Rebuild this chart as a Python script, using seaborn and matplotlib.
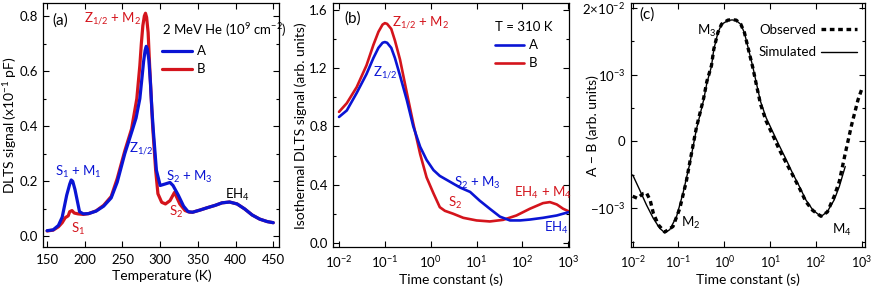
import numpy as np
import matplotlib
matplotlib.use("Agg")
import matplotlib.pyplot as plt
import matplotlib.ticker as mticker
from matplotlib.lines import Line2D
import seaborn as sns

# (a) DLTS temperature scans, samples A and B
temp_a = [150, 158, 165, 170, 176, 180, 182, 184, 187, 193, 198, 205, 215, 225, 235, 243, 253,
          263, 268, 273, 276, 278, 280, 281.5, 283, 285, 287, 289, 291, 295, 300, 306, 313,
          317, 324, 331, 337, 343, 353, 362, 373, 382, 392, 402, 412, 422, 432, 442, 450]
dlts_a = [0.021, 0.024, 0.04, 0.07, 0.15, 0.19, 0.205, 0.2, 0.17, 0.09, 0.082, 0.083, 0.092,
          0.11, 0.14, 0.197, 0.30, 0.386, 0.43, 0.50, 0.58, 0.635, 0.675, 0.69, 0.68, 0.64,
          0.56, 0.46, 0.38, 0.24, 0.185, 0.19, 0.196, 0.185, 0.15, 0.11, 0.09, 0.088, 0.096,
          0.104, 0.113, 0.122, 0.125, 0.118, 0.10, 0.078, 0.063, 0.054, 0.05]
temp_b = [150, 158, 165, 170, 174, 178, 180, 183, 186, 191, 198, 205, 215, 225, 235, 243, 253,
          262, 269, 273, 275, 277, 279, 280.5, 282, 284, 286, 290, 294, 297, 302, 307, 313,
          319, 326, 333, 339, 343, 353, 362, 373, 382, 392, 402, 412, 422, 432, 442, 450]
dlts_b = [0.02, 0.023, 0.035, 0.05, 0.068, 0.075, 0.09, 0.094, 0.085, 0.082, 0.08, 0.083,
          0.093, 0.113, 0.145, 0.21, 0.31, 0.39, 0.50, 0.62, 0.70, 0.765, 0.80, 0.81, 0.795,
          0.74, 0.62, 0.40, 0.24, 0.155, 0.124, 0.118, 0.13, 0.16, 0.118, 0.094, 0.088, 0.088,
          0.096, 0.104, 0.113, 0.122, 0.125, 0.118, 0.10, 0.078, 0.063, 0.054, 0.05]

# (b) isothermal DLTS at 310 K
tau_a = [0.01, 0.0148, 0.0243, 0.0398, 0.0562, 0.0724, 0.0891, 0.1, 0.112, 0.138, 0.166, 0.214,
         0.302, 0.417, 0.589, 0.813, 1.15, 1.58, 2.63, 4.37, 7.24, 11.7, 19.5, 32.4, 53.7,
         89.1, 145, 282, 562, 1000]
iso_a = [0.865, 0.91, 1.03, 1.16, 1.27, 1.34, 1.375, 1.38, 1.375, 1.34, 1.27, 1.15, 0.98,
         0.80, 0.66, 0.57, 0.50, 0.46, 0.42, 0.38, 0.35, 0.29, 0.234, 0.18, 0.154, 0.154,
         0.16, 0.172, 0.188, 0.21]
tau_b = [0.01, 0.0148, 0.0243, 0.0398, 0.0562, 0.0724, 0.0891, 0.1, 0.112, 0.138, 0.166, 0.214,
         0.302, 0.417, 0.589, 0.813, 1.15, 1.58, 2.04, 3.09, 5.13, 10.0, 19.5, 38.0, 74.1,
         145, 282, 398, 562, 776, 1000]
iso_b = [0.90, 0.96, 1.07, 1.22, 1.36, 1.45, 1.50, 1.51, 1.505, 1.47, 1.39, 1.26, 1.03, 0.82,
         0.61, 0.45, 0.34, 0.245, 0.22, 0.20, 0.172, 0.154, 0.147, 0.158, 0.188, 0.234,
         0.273, 0.28, 0.264, 0.234, 0.218]

# (c) A - B, observed and simulated
tau_obs = [0.0100, 0.0126, 0.0170, 0.0200, 0.0240, 0.0282, 0.0363, 0.0501, 0.0759, 0.107,
           0.148, 0.178, 0.245, 0.355, 0.417, 0.525, 0.589, 0.724, 0.871, 1.20, 1.48, 1.82,
           2.29, 2.75, 3.39, 4.17, 5.01, 6.17, 8.13, 11.5, 15.8, 22.4, 30.9, 43.7, 60.3, 85.1,
           129, 178, 251, 324, 437, 603, 832, 1000]
diff_obs = [-0.82e-3, -0.85e-3, -0.78e-3, -0.77e-3, -0.875e-3, -1.24e-3, -2.1e-3, -2.9e-3,
            -2.26e-3, -1.0e-3, -0.6e-3, -0.30e-3, 0.20e-3, 0.65e-3, 0.90e-3, 1.5e-3, 3.1e-3,
            6.6e-3, 9.6e-3, 1.15e-2, 1.17e-2, 1.15e-2, 9.6e-3, 6.6e-3, 3.0e-3, 1.4e-3, 0.85e-3,
            0.56e-3, 0.31e-3, 0.09e-3, -0.12e-3, -0.32e-3, -0.5e-3, -0.7e-3, -0.9e-3, -1.1e-3,
            -1.43e-3, -1.18e-3, -0.82e-3, -0.6e-3, -0.18e-3, 0.25e-3, 0.625e-3, 0.78e-3]
tau_sim = [0.0100, 0.0141, 0.0200, 0.0282, 0.0389, 0.0501, 0.0646, 0.0912, 0.126, 0.178, 0.245,
           0.355, 0.417, 0.525, 0.589, 0.724, 0.871, 1.20, 1.48, 1.82, 2.29, 2.75, 3.39, 4.17,
           5.01, 6.17, 8.13, 11.5, 15.8, 22.4, 30.9, 43.7, 60.3, 85.1, 129, 178, 251, 324, 437]
diff_sim = [-0.50e-3, -0.72e-3, -0.95e-3, -1.57e-3, -2.45e-3, -2.98e-3, -2.61e-3, -1.43e-3,
            -0.77e-3, -0.32e-3, 0.175e-3, 0.625e-3, 0.875e-3, 1.45e-3, 3.07e-3, 6.5e-3, 9.5e-3,
            1.13e-2, 1.16e-2, 1.13e-2, 9.5e-3, 6.5e-3, 3.07e-3, 1.45e-3, 0.875e-3, 0.60e-3,
            0.36e-3, 0.14e-3, -0.06e-3, -0.27e-3, -0.474e-3, -0.675e-3, -0.874e-3,
            -1.07e-3, -1.45e-3, -1.16e-3, -0.874e-3, -0.675e-3, -0.375e-3]

BLUE = "#0a14d4"
RED = "#d4141c"

sns.set_theme(style="ticks")
plt.rcParams["font.family"] = ["Lato", "DejaVu Sans"]
plt.rcParams.update({
    "mathtext.default": "regular",
    "axes.edgecolor": "black",
    "axes.linewidth": 0.9,
    "axes.labelcolor": "black",
    "text.color": "black",
    "xtick.color": "black",
    "ytick.color": "black",
    "xtick.direction": "in",
    "ytick.direction": "in",
    "xtick.top": True,
    "ytick.right": True,
    "xtick.major.size": 4,
    "ytick.major.size": 4,
    "xtick.minor.size": 2.5,
    "ytick.minor.size": 2.5,
    "xtick.major.width": 0.8,
    "ytick.major.width": 0.8,
    "xtick.minor.width": 0.8,
    "ytick.minor.width": 0.8,
    "xtick.major.pad": 5,
    "ytick.major.pad": 4,
    "xtick.labelsize": 9.5,
    "ytick.labelsize": 9.5,
    "axes.labelsize": 10,
})

fig, axes = plt.subplots(1, 3, figsize=(8.72, 2.91), dpi=100)
bottom, height = 0.1495, 0.840
axes[0].set_position([0.0497, bottom, 0.2706, height])
axes[1].set_position([0.3822, bottom, 0.2706, height])
axes[2].set_position([0.7236, bottom, 0.2680, height])

FS = 9.5
LET = 11

# ---- (a)
ax = axes[0]
sns.lineplot(x=temp_b, y=dlts_b, ax=ax, color=RED, lw=2.3)
sns.lineplot(x=temp_a, y=dlts_a, ax=ax, color=BLUE, lw=2.3)
ax.set_xlim(145, 458)
ax.set_ylim(-0.04, 0.847)
ax.set_xticks([150, 200, 250, 300, 350, 400, 450])
ax.set_yticks([0.0, 0.2, 0.4, 0.6, 0.8])
ax.yaxis.set_minor_locator(mticker.MultipleLocator(0.1))
ax.set_xlabel("Temperature (K)", labelpad=2)
ax.set_ylabel("DLTS signal (x10$^{-1}$ pF)")
ax.yaxis.set_label_coords(-0.103, 0.5)
hd = [Line2D([], [], color=BLUE, lw=2.3), Line2D([], [], color=RED, lw=2.3)]
ax.legend(hd, ["A", "B"], title="2 MeV He (10$^9$ cm$^{-2}$)", loc="upper left",
          bbox_to_anchor=(0.505, 0.925), frameon=False, handlelength=2.2, handletextpad=0.4,
          borderpad=0, borderaxespad=0, labelspacing=0.45, alignment="left",
          fontsize=FS, title_fontsize=FS)
ax.text(0.071, 0.93, "(a)", transform=ax.transAxes, ha="center", va="center", fontsize=LET)
ax.text(0.292, 0.935, "Z$_{1/2}$ + M$_2$", color=RED, transform=ax.transAxes, ha="center", va="center", fontsize=FS)
ax.text(0.148, 0.31, "S$_1$ + M$_1$", color=BLUE, transform=ax.transAxes, ha="center", va="center", fontsize=FS)
ax.text(0.147, 0.075, "S$_1$", color=RED, transform=ax.transAxes, ha="center", va="center", fontsize=FS)
ax.text(0.414, 0.405, "Z$_{1/2}$", color=BLUE, transform=ax.transAxes, ha="center", va="center", fontsize=FS)
ax.text(0.617, 0.29, "S$_2$ + M$_3$", color=BLUE, transform=ax.transAxes, ha="center", va="center", fontsize=FS)
ax.text(0.561, 0.147, "S$_2$", color=RED, transform=ax.transAxes, ha="center", va="center", fontsize=FS)
ax.text(0.823, 0.215, "EH$_4$", color="black", transform=ax.transAxes, ha="center", va="center", fontsize=FS)

# ---- (b)
ax = axes[1]
sns.lineplot(x=tau_b, y=iso_b, ax=ax, color=RED, lw=1.9)
sns.lineplot(x=tau_a, y=iso_a, ax=ax, color=BLUE, lw=1.9)
ax.set_xscale("log")
ax.set_xlim(0.0075, 1052)
ax.set_ylim(-0.032, 1.648)
ax.xaxis.set_major_locator(mticker.LogLocator(base=10, numticks=12))
ax.xaxis.set_minor_locator(mticker.NullLocator())
ax.set_yticks([0.0, 0.4, 0.8, 1.2, 1.6])
ax.yaxis.set_minor_locator(mticker.MultipleLocator(0.2))
ax.set_xlabel("Time constant (s)", labelpad=2)
ax.set_ylabel("Isothermal DLTS signal (arb. units)")
ax.yaxis.set_label_coords(-0.111, 0.5)
hd = [Line2D([], [], color=BLUE, lw=1.9), Line2D([], [], color=RED, lw=1.9)]
ax.legend(hd, ["A", "B"], title="T = 310 K", loc="upper left",
          bbox_to_anchor=(0.685, 0.925), frameon=False, handlelength=2.2, handletextpad=0.4,
          borderpad=0, borderaxespad=0, labelspacing=0.45, alignment="left",
          fontsize=FS, title_fontsize=FS)
ax.text(0.081, 0.937, "(b)", transform=ax.transAxes, ha="center", va="center", fontsize=LET)
ax.text(0.371, 0.918, "Z$_{1/2}$ + M$_2$", color=RED, transform=ax.transAxes, ha="center", va="center", fontsize=FS)
ax.text(0.219, 0.713, "Z$_{1/2}$", color=BLUE, transform=ax.transAxes, ha="center", va="center", fontsize=FS)
ax.text(0.611, 0.263, "S$_2$ + M$_3$", color=BLUE, transform=ax.transAxes, ha="center", va="center", fontsize=FS)
ax.text(0.516, 0.181, "S$_2$", color=RED, transform=ax.transAxes, ha="center", va="center", fontsize=FS)
ax.text(0.89, 0.222, "EH$_4$ + M$_4$", color=RED, transform=ax.transAxes, ha="center", va="center", fontsize=FS)
ax.text(0.947, 0.078, "EH$_4$", color=BLUE, transform=ax.transAxes, ha="center", va="center", fontsize=FS)

# ---- (c)
ax = axes[2]
sns.lineplot(x=tau_sim, y=diff_sim, ax=ax, color="black", lw=1.0)
sns.lineplot(x=tau_obs, y=diff_obs, ax=ax, color="black", lw=2.4)
obs_line = ax.get_lines()[-1]
obs_line.set_dashes((1.4, 1.1))
ax.set_xscale("log")
ax.set_yscale("symlog", linthresh=1e-3, linscale=1.171)
ax.set_xlim(0.00918, 1161)
ax.set_ylim(-5.8e-3, 2.47e-2)
ax.xaxis.set_major_locator(mticker.LogLocator(base=10, numticks=12))
ax.xaxis.set_minor_locator(mticker.NullLocator())
ax.set_yticks([-1e-3, 0, 1e-3, 2e-2])
ax.set_yticklabels(["\u221210$^{-3}$", "0", "10$^{-3}$", "2\u00d710$^{-2}$"])
ax.yaxis.set_minor_locator(mticker.FixedLocator([-4.47e-3, -0.5e-3, 0.5e-3, 4.47e-3]))
ax.yaxis.set_minor_formatter(mticker.NullFormatter())
ax.tick_params(axis="x", labelsize=9)
ax.set_xlabel("Time constant (s)", labelpad=2)
ax.set_ylabel("A \u2212 B (arb. units)")
ax.yaxis.set_label_coords(-0.136, 0.5)
hd = [Line2D([], [], color="black", lw=2.4, dashes=(1.4, 1.1)),
      Line2D([], [], color="black", lw=1.0)]
ax.legend(hd, ["Observed", "Simulated"], loc="upper right", markerfirst=False,
          bbox_to_anchor=(0.967, 0.915), frameon=False, handlelength=2.7, handletextpad=0.4,
          borderpad=0, borderaxespad=0, labelspacing=0.8, fontsize=FS)
ax.text(0.067, 0.951, "(c)", transform=ax.transAxes, ha="center", va="center", fontsize=LET)
ax.text(0.325, 0.887, "M$_3$", transform=ax.transAxes, ha="center", va="center", fontsize=FS)
ax.text(0.256, 0.1, "M$_2$", transform=ax.transAxes, ha="center", va="center", fontsize=FS)
ax.text(0.901, 0.073, "M$_4$", transform=ax.transAxes, ha="center", va="center", fontsize=FS)

fig.savefig("out.png", dpi=100)
